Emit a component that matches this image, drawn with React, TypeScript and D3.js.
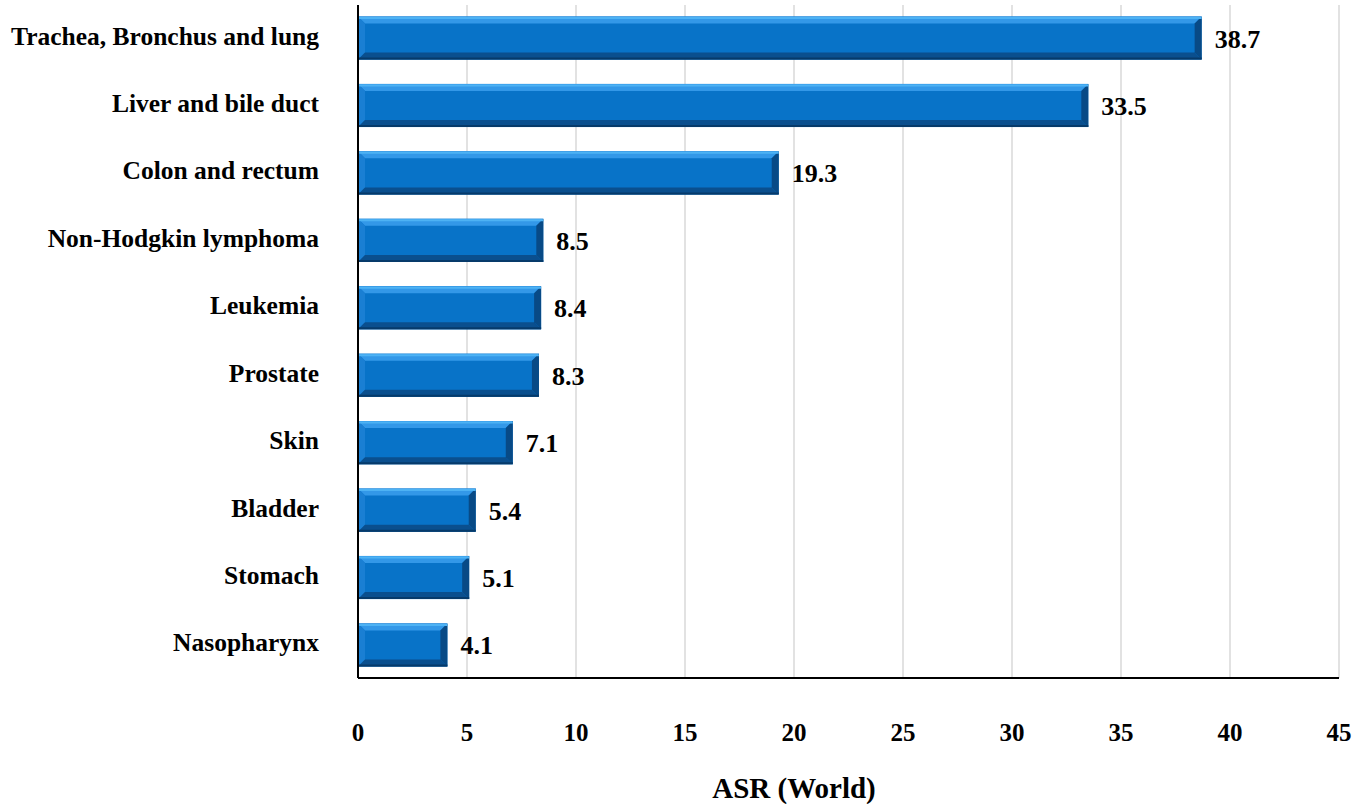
import React from "react";
import * as d3 from "d3";

const categories = [
  "Trachea, Bronchus and lung",
  "Liver and bile duct",
  "Colon and rectum",
  "Non-Hodgkin lymphoma",
  "Leukemia",
  "Prostate",
  "Skin",
  "Bladder",
  "Stomach",
  "Nasopharynx",
];
const values = [38.7, 33.5, 19.3, 8.5, 8.4, 8.3, 7.1, 5.4, 5.1, 4.1];
const xTicks = [0, 5, 10, 15, 20, 25, 30, 35, 40, 45];
const axisTitle = "ASR (World)";

const W = 1367;
const H = 804;
const left = 358;
const right = 1339;
const top = 5;
const bottom = 678;
const font = "'Liberation Serif', 'Times New Roman', serif";

export default function App() {
  const x = d3.scaleLinear().domain([0, 45]).range([left, right]);
  const y = d3
    .scaleBand<string>()
    .domain(categories)
    .range([top, bottom])
    .paddingInner(0.36)
    .paddingOuter(0.17);
  const bw = y.bandwidth();
  const b = 7;

  return (
    <svg
      width={W}
      height={H}
      style={{ position: "absolute", left: 0, top: 0, background: "#fff" }}
      fontFamily={font}
    >
      {xTicks.map((t) => (
        <line
          key={"g" + t}
          x1={x(t)}
          x2={x(t)}
          y1={top}
          y2={bottom}
          stroke="#d9d9d9"
          strokeWidth={1.5}
        />
      ))}
      {categories.map((c, i) => {
        const x0 = x(0);
        const x1 = x(values[i]);
        const y0 = y(c)!;
        const y1 = y0 + bw;
        return (
          <g key={c}>
            <rect x={x0} y={y0} width={x1 - x0} height={bw} fill="#0873C8" />
            <polygon
              points={`${x0},${y0} ${x1},${y0} ${x1 - b},${y0 + b} ${x0 + b},${y0 + b}`}
              fill="#3398E8"
            />
            <polygon
              points={`${x0},${y0} ${x0 + b},${y0 + b} ${x0 + b},${y1 - b} ${x0},${y1}`}
              fill="#1A7FD3"
            />
            <polygon
              points={`${x0},${y1} ${x0 + b},${y1 - b} ${x1 - b},${y1 - b} ${x1},${y1}`}
              fill="#0A4F8E"
            />
            <polygon
              points={`${x1},${y0} ${x1},${y1} ${x1 - b},${y1 - b} ${x1 - b},${y0 + b}`}
              fill="#084A86"
            />
            <line x1={x0} x2={x1} y1={y0 + 1.5} y2={y0 + 1.5} stroke="#4DB2F4" strokeWidth={2} />
            <line x1={x0} x2={x1} y1={y1 - 1} y2={y1 - 1} stroke="#063A6A" strokeWidth={2} />
            <text
              x={319}
              y={y0 + bw / 2 - 2}
              textAnchor="end"
              dominantBaseline="central"
              fontSize={25.5}
              fontWeight="bold"
              fill="#000"
            >
              {c}
            </text>
            <text
              x={x1 + 13}
              y={y0 + bw / 2 + 1}
              dominantBaseline="central"
              fontSize={26}
              fontWeight="bold"
              fill="#000"
            >
              {values[i].toFixed(1)}
            </text>
          </g>
        );
      })}
      <line x1={left} x2={left} y1={top} y2={bottom} stroke="#000" strokeWidth={2} />
      <line x1={left} x2={right} y1={bottom} y2={bottom} stroke="#000" strokeWidth={2} />
      {xTicks.map((t) => (
        <text
          key={"t" + t}
          x={x(t)}
          y={732}
          textAnchor="middle"
          dominantBaseline="central"
          fontSize={25}
          fontWeight="bold"
          fill="#000"
        >
          {t}
        </text>
      ))}
      <text
        x={794}
        y={788}
        textAnchor="middle"
        dominantBaseline="central"
        fontSize={29}
        fontWeight="bold"
        fill="#000"
      >
        {axisTitle}
      </text>
    </svg>
  );
}
